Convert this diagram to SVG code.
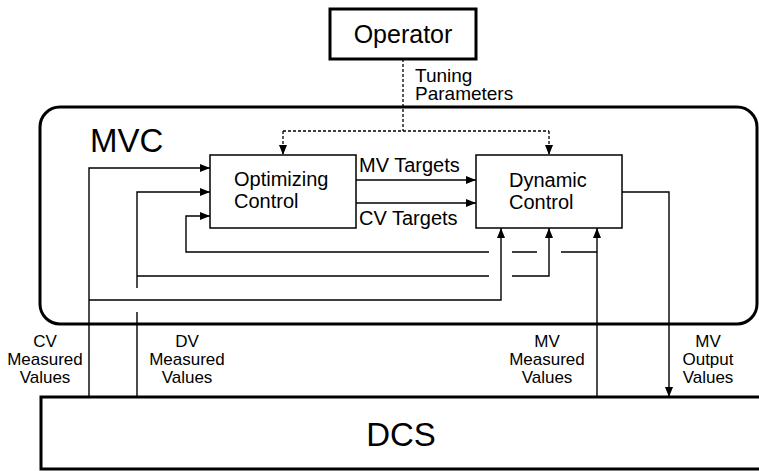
<svg xmlns="http://www.w3.org/2000/svg" width="759" height="471" viewBox="0 0 759 471">
<style>
text{font-family:"Liberation Sans",Arial,sans-serif;fill:#000}
.big{font-size:33px}
.mid{font-size:20px}
.tp{font-size:19px}
.sm{font-size:17px;text-anchor:middle}
.thick{fill:#fff;stroke:#000;stroke-width:3}
.box{fill:#fff;stroke:#000;stroke-width:1.5}
.ln{fill:none;stroke:#000;stroke-width:1.4}
.dash{fill:none;stroke:#000;stroke-width:1.3;stroke-dasharray:3 2}
</style>
<defs>
<marker id="ah" viewBox="0 0 10 8" refX="10" refY="4" markerWidth="10" markerHeight="8" markerUnits="userSpaceOnUse" orient="auto">
<path d="M0,0 L10,4 L0,8 Z" fill="#000"/>
</marker>
</defs>
<g id="mvc">
<rect x="40" y="107" width="717" height="217" rx="20" ry="20" class="thick"/>
<text x="90" y="152" class="big">MVC</text>
</g>
<g id="dcs">
<rect x="41" y="397" width="740" height="72" class="thick"/>
<text x="401" y="446" class="big" text-anchor="middle">DCS</text>
</g>
<g id="operator">
<rect x="330" y="9" width="146" height="50" class="thick"/>
<text x="403" y="43" font-size="25" text-anchor="middle">Operator</text>
</g>
<g id="optimizing">
<rect x="210" y="155" width="146" height="73" class="box"/>
<text x="234" y="186" class="mid">Optimizing</text>
<text x="234" y="208" class="mid">Control</text>
</g>
<g id="dynamic">
<rect x="476" y="155" width="146" height="73" class="box"/>
<text x="509" y="187" class="mid">Dynamic</text>
<text x="509" y="209" class="mid">Control</text>
</g>
<g id="connectors">
<path d="M403,59 V131 M283,131 H549" class="dash"/>
<path d="M283,131 V155" class="dash" marker-end="url(#ah)"/>
<path d="M549,131 V155" class="dash" marker-end="url(#ah)"/>
<path d="M356,180 H476" class="ln" marker-end="url(#ah)"/>
<path d="M356,203 H476" class="ln" marker-end="url(#ah)"/>
<path d="M89,397 V168 H210" class="ln" marker-end="url(#ah)"/>
<path d="M89,300 H501 V228" class="ln" marker-end="url(#ah)"/>
<path d="M137,397 V312 M137,288 V192 H210" class="ln" marker-end="url(#ah)"/>
<path d="M137,276 H489 M512,276 H549 V228" class="ln" marker-end="url(#ah)"/>
<path d="M597,397 V228" class="ln" marker-end="url(#ah)"/>
<path d="M597,252 H561 M537,252 H512 M489,252 H186 V216 H210" class="ln" marker-end="url(#ah)"/>
<path d="M622,192 H669 V397" class="ln" marker-end="url(#ah)"/>
</g>
<g id="labels">
<text x="415" y="82" class="tp">Tuning</text>
<text x="415" y="100" class="tp">Parameters</text>
<text x="359" y="172" class="mid">MV Targets</text>
<text x="359" y="225" class="mid">CV Targets</text>
<text x="45" y="347" class="sm">CV</text>
<text x="45" y="365" class="sm">Measured</text>
<text x="45" y="383" class="sm">Values</text>
<text x="187" y="347" class="sm">DV</text>
<text x="187" y="365" class="sm">Measured</text>
<text x="187" y="383" class="sm">Values</text>
<text x="547" y="347" class="sm">MV</text>
<text x="547" y="365" class="sm">Measured</text>
<text x="547" y="383" class="sm">Values</text>
<text x="708" y="347" class="sm">MV</text>
<text x="708" y="365" class="sm">Output</text>
<text x="708" y="383" class="sm">Values</text>
</g>
</svg>
